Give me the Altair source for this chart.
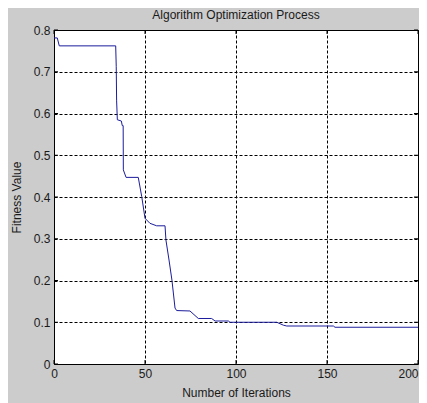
import altair as alt
import pandas as pd

iterations = [0, 1.8, 2.9, 33.9, 34.2, 34.4, 34.8, 37.0, 37.5, 38.0, 38.1, 39.6,
              46.3, 48.2, 50.0, 52.7, 56.4, 61.0, 61.5, 63.2, 64.8, 66.5, 67.4,
              74.7, 79.3, 86.6, 88.5, 95.8, 96.7, 122.4, 126.0, 127.9, 153.5,
              154.4, 200]
fitness = [0.781, 0.781, 0.762, 0.762, 0.712, 0.632, 0.585, 0.582, 0.571, 0.571,
           0.465, 0.447, 0.447, 0.401, 0.349, 0.337, 0.331, 0.331, 0.297, 0.249,
           0.201, 0.134, 0.128, 0.127, 0.109, 0.109, 0.103, 0.103, 0.100, 0.100,
           0.093, 0.091, 0.091, 0.088, 0.088]

x_ticks = [0, 50, 100, 150, 200]
y_ticks = [0, 0.1, 0.2, 0.3, 0.4, 0.5, 0.6, 0.7, 0.8]

title_text = "Algorithm Optimization Process"
x_title = "Number of Iterations"
y_title = "Fitness Value"

W, H = 364, 334
FONT = "Liberation Sans"
TXT = "#1a1a1a"

df = pd.DataFrame({"it": iterations, "fit": fitness})
dx = pd.DataFrame({"it": x_ticks})
dy = pd.DataFrame({"fit": y_ticks})

xscale = alt.Scale(domain=[0, 200], nice=False, zero=False)
yscale = alt.Scale(domain=[0, 0.8], nice=False, zero=False)

xaxis = alt.Axis(values=x_ticks, format="d", title=x_title, grid=True,
                 gridDash=[3, 2], gridColor="#000000", gridOpacity=1, gridWidth=1,
                 ticks=False, tickSize=0, domain=False, labelFlush=False,
                 labelAlign={"condition": {"test": "datum.value >= 200", "value": "right"},
                             "value": "center"},
                 labelPadding=4, labelFont=FONT, labelFontSize=12, labelColor=TXT,
                 titleFont=FONT, titleFontSize=12, titleFontWeight="normal",
                 titleColor=TXT, titlePadding=8)
yaxis = alt.Axis(values=y_ticks, format=".1~f", title=y_title, grid=True,
                 gridDash=[3, 2], gridColor="#000000", gridOpacity=1, gridWidth=1,
                 ticks=False, tickSize=0, domain=False, labelFlush=False,
                 labelPadding=4, labelFont=FONT, labelFontSize=12, labelColor=TXT,
                 titleFont=FONT, titleFontSize=12, titleFontWeight="normal",
                 titleColor=TXT, titlePadding=10)

line = alt.Chart(df).mark_line(color="#1c1c9c", strokeWidth=1, clip=True).encode(
    x=alt.X("it:Q", scale=xscale, axis=xaxis),
    y=alt.Y("fit:Q", scale=yscale, axis=yaxis),
)

tick_b = alt.Chart(dx).mark_rule(color="#000", strokeWidth=1).encode(
    x=alt.X("it:Q", scale=xscale), y=alt.value(H), y2=alt.value(H - 4))
tick_t = alt.Chart(dx).mark_rule(color="#000", strokeWidth=1).encode(
    x=alt.X("it:Q", scale=xscale), y=alt.value(0), y2=alt.value(4))
tick_l = alt.Chart(dy).mark_rule(color="#000", strokeWidth=1).encode(
    y=alt.Y("fit:Q", scale=yscale), x=alt.value(0), x2=alt.value(4))
tick_r = alt.Chart(dy).mark_rule(color="#000", strokeWidth=1).encode(
    y=alt.Y("fit:Q", scale=yscale), x=alt.value(W), x2=alt.value(W - 4))

chart = alt.layer(line, tick_b, tick_t, tick_l, tick_r).properties(
    width=W, height=H,
    title=alt.TitleParams(title_text, font=FONT, fontSize=12, fontWeight="normal",
                          color=TXT, anchor="middle", offset=2),
    background="#cccccc",
    padding={"left": 46, "top": 22, "right": 1, "bottom": 39},
    autosize=alt.AutoSizeParams(type="none"),
).configure_view(fill="#ffffff", stroke="#000000", strokeWidth=1)

chart.save("out.html", embed_options={"renderer": "svg", "actions": False})
